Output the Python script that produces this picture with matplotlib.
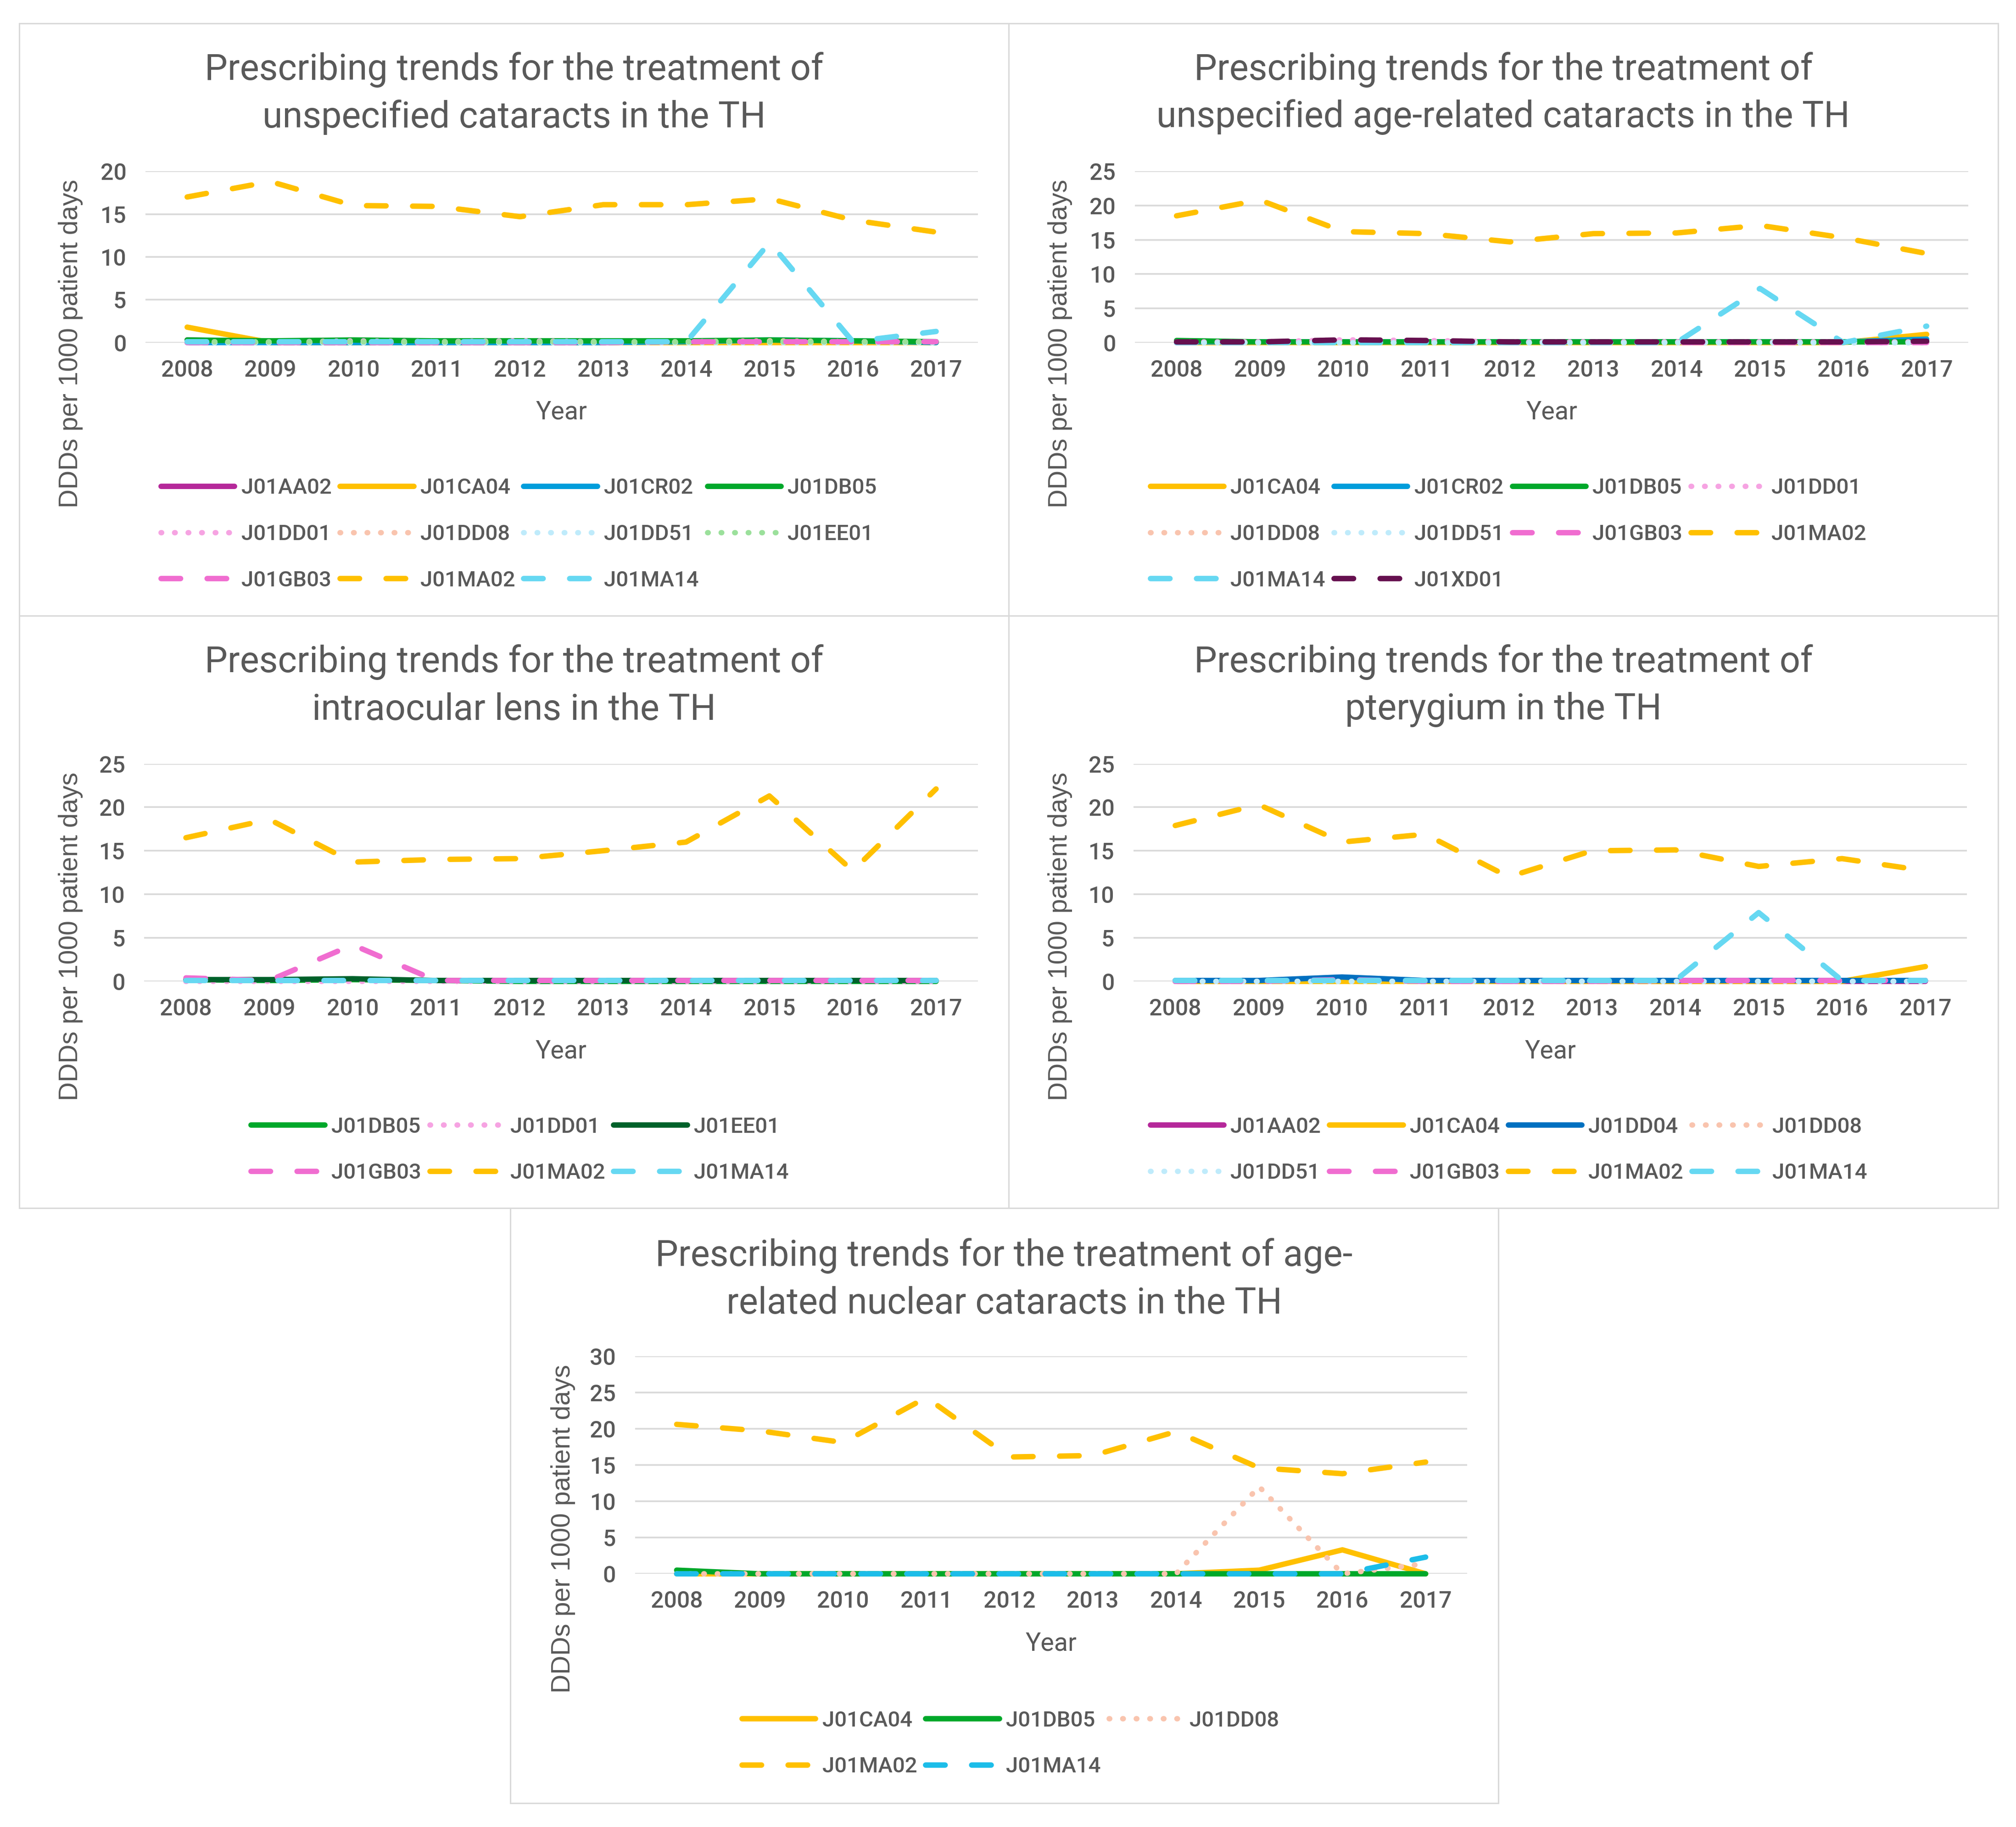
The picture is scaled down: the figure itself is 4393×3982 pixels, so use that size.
import numpy as np
import matplotlib
matplotlib.use("Agg")
import matplotlib.pyplot as plt
from matplotlib.patches import Rectangle

## Data (DDDs per 1000 patient days)
years = ["2008", "2009", "2010", "2011", "2012", "2013", "2014", "2015", "2016", "2017"]

# Panel 1: unspecified cataracts
p1_J01AA02 = [0.3, 0.1, 0.2, 0.1, 0.1, 0.05, 0.05, 0.1, 0.05, 0.05]
p1_J01CA04 = [1.8, 0.0, 0.0, 0.0, 0.0, 0.0, 0.0, 0.0, 0.0, 0.0]
p1_J01CR02 = [0.0, 0.0, 0.0, 0.0, 0.0, 0.0, 0.1, 0.3, 0.2, 0.0]
p1_J01DB05 = [0.3, 0.2, 0.3, 0.2, 0.2, 0.2, 0.2, 0.3, 0.2, 0.1]
p1_J01DD01 = [0.1, 0.05, 0.2, 0.1, 0.2, 0.1, 0.05, 0.1, 0.1, 0.05]
p1_J01DD08 = [0.0, 0.0, 0.0, 0.0, 0.0, 0.0, 0.1, 0.2, 0.1, 0.1]
p1_J01DD51 = [0.0, 0.0, 0.0, 0.0, 0.0, 0.0, 0.0, 0.0, 0.0, 0.0]
p1_J01EE01 = [0.1, 0.1, 0.1, 0.1, 0.1, 0.1, 0.1, 0.1, 0.1, 0.1]
p1_J01GB03 = [0.0, 0.0, 0.0, 0.0, 0.0, 0.0, 0.1, 0.1, 0.1, 0.1]
p1_J01MA02 = [17.0, 18.8, 16.0, 15.9, 14.7, 16.1, 16.1, 16.8, 14.3, 12.9]
p1_J01MA14 = [0.1, 0.1, 0.1, 0.1, 0.1, 0.1, 0.1, 11.7, 0.1, 1.3]

# Panel 2: unspecified age-related cataracts
p2_J01CA04 = [0.0, 0.0, 0.0, 0.0, 0.0, 0.0, 0.0, 0.0, 0.0, 1.2]
p2_J01CR02 = [0.1, 0.1, 0.1, 0.1, 0.1, 0.1, 0.1, 0.1, 0.1, 0.5]
p2_J01DB05 = [0.3, 0.1, 0.1, 0.1, 0.1, 0.1, 0.1, 0.1, 0.1, 0.1]
p2_J01DD01 = [0.1, 0.1, 0.4, 0.3, 0.1, 0.1, 0.1, 0.1, 0.1, 0.1]
p2_J01DD08 = [0.0, 0.0, 0.0, 0.0, 0.0, 0.0, 0.0, 0.0, 0.0, 0.0]
p2_J01DD51 = [0.0, 0.0, 0.0, 0.0, 0.0, 0.0, 0.0, 0.0, 0.0, 0.0]
p2_J01GB03 = [0.0, 0.0, 0.3, 0.2, 0.0, 0.0, 0.0, 0.0, 0.0, 0.0]
p2_J01MA02 = [18.5, 20.8, 16.2, 15.9, 14.7, 15.9, 16.0, 17.1, 15.3, 13.0]
p2_J01MA14 = [0.0, 0.0, 0.0, 0.0, 0.0, 0.0, 0.0, 7.9, 0.0, 2.4]
p2_J01XD01 = [0.1, 0.1, 0.4, 0.3, 0.1, 0.1, 0.1, 0.1, 0.1, 0.2]

# Panel 3: intraocular lens
p3_J01DB05 = [0.2, 0.1, 0.2, 0.1, 0.0, 0.0, 0.0, 0.0, 0.0, 0.0]
p3_J01DD01 = [0.0, 0.0, 0.0, 0.0, 0.0, 0.0, 0.0, 0.0, 0.0, 0.0]
p3_J01EE01 = [0.2, 0.2, 0.3, 0.1, 0.1, 0.1, 0.1, 0.1, 0.1, 0.1]
p3_J01GB03 = [0.4, 0.1, 4.2, 0.1, 0.1, 0.1, 0.1, 0.1, 0.1, 0.1]
p3_J01MA02 = [16.5, 18.6, 13.7, 14.0, 14.1, 15.0, 16.0, 21.3, 12.7, 22.1]
p3_J01MA14 = [0.1, 0.1, 0.1, 0.1, 0.1, 0.1, 0.1, 0.1, 0.1, 0.1]

# Panel 4: pterygium
p4_J01AA02 = [0.0, 0.0, 0.3, 0.1, 0.0, 0.0, 0.0, 0.0, 0.0, 0.0]
p4_J01CA04 = [0.0, 0.0, 0.0, 0.0, 0.0, 0.0, 0.0, 0.0, 0.0, 1.7]
p4_J01DD04 = [0.1, 0.1, 0.5, 0.1, 0.1, 0.1, 0.1, 0.1, 0.1, 0.1]
p4_J01DD08 = [0.0, 0.0, 0.0, 0.0, 0.0, 0.0, 0.0, 0.0, 0.0, 0.0]
p4_J01DD51 = [0.0, 0.0, 0.0, 0.0, 0.0, 0.0, 0.0, 0.0, 0.0, 0.0]
p4_J01GB03 = [0.0, 0.0, 0.2, 0.0, 0.0, 0.0, 0.1, 0.1, 0.1, 0.1]
p4_J01MA02 = [17.9, 20.3, 16.0, 16.9, 12.0, 15.0, 15.1, 13.2, 14.1, 12.7]
p4_J01MA14 = [0.1, 0.1, 0.1, 0.1, 0.1, 0.1, 0.1, 7.9, 0.1, 0.1]

# Panel 5: age-related nuclear cataracts
p5_J01CA04 = [0.0, 0.0, 0.0, 0.0, 0.0, 0.0, 0.0, 0.5, 3.3, 0.0]
p5_J01DB05 = [0.5, 0.0, 0.0, 0.0, 0.0, 0.0, 0.0, 0.0, 0.0, 0.0]
p5_J01DD08 = [0.0, 0.0, 0.0, 0.0, 0.0, 0.0, 0.0, 12.0, 0.0, 1.4]
p5_J01MA02 = [20.6, 19.7, 18.1, 24.3, 16.1, 16.3, 19.6, 14.6, 13.8, 15.4]
p5_J01MA14 = [0.0, 0.0, 0.0, 0.0, 0.0, 0.0, 0.0, 0.0, 0.0, 2.3]

## Styles
SOLID, DASH, DOT = "solid", "dash", "dot"
styles = {
    "J01AA02": ("#B5289A", SOLID),
    "J01CA04": ("#FFC000", SOLID),
    "J01CR02": ("#009DDB", SOLID),
    "J01DB05": ("#00A82A", SOLID),
    "J01DD01": ("#F6A3E2", DOT),
    "J01DD04": ("#0070C0", SOLID),
    "J01DD08": ("#F9C4AE", DOT),
    "J01DD51": ("#BFEBFB", DOT),
    "J01EE01": ("#9BE09B", DOT),
    "J01GB03": ("#F06DD0", DASH),
    "J01MA02": ("#FFC000", DASH),
    "J01MA14": ("#66D8F2", DASH),
    "J01XD01": ("#66104F", DASH),
}

TXT = "#595959"
GRID = "#D9D9D9"
LW = 8.5

plt.rcParams['font.family'] = ['Roboto', 'DejaVu Sans']
plt.rcParams['font.weight'] = 500

W, H = 1565.0, 1418.6   # layout measured on the reference scaled to this size
fig = plt.figure(figsize=(43.93, 39.82), dpi=100, facecolor="white")

def fx(x):
  return x / W

def fy(y):
  return 1 - y / H

def draw_panel(box, axrect, title, ymax, series, ylab_xy, leg_xy, ncol, overrides={}):
  x0, y0, x1, y1 = box
  fig.patches.append(Rectangle((fx(x0), fy(y1)), fx(x1) - fx(x0), fy(y0) - fy(y1),
                               transform=fig.transFigure, fill=False,
                               edgecolor=GRID, lw=2.2))
  cx = (x0 + x1) / 2.0
  fig.text(fx(cx), fy(title[2]), title[0], ha="center", va="center",
           fontsize=57, color=TXT, weight="normal")
  fig.text(fx(cx), fy(title[2] + 37), title[1], ha="center", va="center",
           fontsize=57, color=TXT, weight="normal")

  l, t, r, b = axrect
  ax = fig.add_axes([fx(l), fy(b), fx(r) - fx(l), fy(t) - fy(b)])
  xs = np.arange(len(years))
  lines = []
  for name, vals in series:
    col, st = overrides.get(name, styles[name])
    kw = dict(color=col, lw=LW, label=name, clip_on=False,
              solid_capstyle="round", dash_capstyle="round")
    if st == DASH:
      kw["dashes"] = (3.6, 4.9)
    elif st == DOT:
      kw["dashes"] = (0.1, 2.4)
    lines += ax.plot(xs, vals, **kw)

  ax.set_xlim(-0.5, len(years) - 0.5)
  ax.set_ylim(0, ymax)
  ax.set_yticks(np.arange(0, ymax + 1, 5))
  ax.set_xticks(xs)
  ax.set_xticklabels(years)
  ax.yaxis.grid(True, color=GRID, lw=2.6)
  ax.set_axisbelow(True)
  for s in ax.spines.values():
    s.set_visible(False)
  ax.tick_params(axis="both", length=0, labelsize=36, colors=TXT)
  ax.tick_params(axis="x", pad=26)
  ax.tick_params(axis="y", pad=30)
  ax.set_xlabel("Year", fontsize=40, color=TXT)
  ax.xaxis.set_label_coords(0.5, -54.0 / (b - t))
  ax.xaxis.label.set_va("center")

  fig.text(fx(ylab_xy[0]), fy(ylab_xy[1]), "DDDs per 1000 patient days",
           rotation=90, ha="center", va="center", fontsize=41, color=TXT,
           family=["Liberation Sans", "DejaVu Sans"], weight="normal")

  # legend is filled row by row, as in the original
  order = [i for c in range(ncol) for i in range(c, len(lines), ncol)]
  ax.legend([lines[i] for i in order], [lines[i].get_label() for i in order],
            loc="upper left", bbox_to_anchor=(fx(leg_xy[0]), fy(leg_xy[1])),
            bbox_transform=fig.transFigure, ncol=ncol, frameon=False,
            fontsize=34, labelcolor=TXT, borderpad=0, borderaxespad=0,
            handlelength=3.4, handletextpad=0.3, columnspacing=0.4,
            labelspacing=1.2)
  return ax

draw_panel((15, 18, 783, 478), (113, 133, 759, 266),
           ("Prescribing trends for the treatment of", "unspecified cataracts in the TH", 54),
           20,
           [("J01AA02", p1_J01AA02), ("J01CA04", p1_J01CA04), ("J01CR02", p1_J01CR02),
            ("J01DB05", p1_J01DB05), ("J01DD01", p1_J01DD01), ("J01DD08", p1_J01DD08),
            ("J01DD51", p1_J01DD51), ("J01EE01", p1_J01EE01), ("J01GB03", p1_J01GB03),
            ("J01MA02", p1_J01MA02), ("J01MA14", p1_J01MA14)],
           (55, 267), (125, 371), 4)

draw_panel((783, 18, 1551, 478), (881, 133, 1528, 266),
           ("Prescribing trends for the treatment of", "unspecified age-related cataracts in the TH", 54),
           25,
           [("J01CA04", p2_J01CA04), ("J01CR02", p2_J01CR02), ("J01DB05", p2_J01DB05),
            ("J01DD01", p2_J01DD01), ("J01DD08", p2_J01DD08), ("J01DD51", p2_J01DD51),
            ("J01GB03", p2_J01GB03), ("J01MA02", p2_J01MA02), ("J01MA14", p2_J01MA14),
            ("J01XD01", p2_J01XD01)],
           (823, 267), (893, 371), 4)

draw_panel((15, 478, 783, 938), (112, 593, 759, 762),
           ("Prescribing trends for the treatment of", "intraocular lens in the TH", 514),
           25,
           [("J01DB05", p3_J01DB05), ("J01DD01", p3_J01DD01), ("J01EE01", p3_J01EE01),
            ("J01GB03", p3_J01GB03), ("J01MA02", p3_J01MA02), ("J01MA14", p3_J01MA14)],
           (55, 727), (195, 867), 3,
           overrides={"J01EE01": ("#00612A", SOLID)})

draw_panel((783, 478, 1551, 938), (880, 593, 1527, 762),
           ("Prescribing trends for the treatment of", "pterygium in the TH", 514),
           25,
           [("J01AA02", p4_J01AA02), ("J01CA04", p4_J01CA04), ("J01DD04", p4_J01DD04),
            ("J01DD08", p4_J01DD08), ("J01DD51", p4_J01DD51), ("J01GB03", p4_J01GB03),
            ("J01MA02", p4_J01MA02), ("J01MA14", p4_J01MA14)],
           (823, 727), (893, 867), 4)

draw_panel((396, 938, 1163, 1400), (493, 1053, 1139, 1222),
           ("Prescribing trends for the treatment of age-", "related nuclear cataracts in the TH", 975),
           30,
           [("J01CA04", p5_J01CA04), ("J01DB05", p5_J01DB05), ("J01DD08", p5_J01DD08),
            ("J01MA02", p5_J01MA02), ("J01MA14", p5_J01MA14)],
           (437, 1187), (576, 1328), 3,
           overrides={"J01MA14": ("#1CBDE9", DASH)})

plt.savefig("out.png", dpi=100, facecolor="white")
